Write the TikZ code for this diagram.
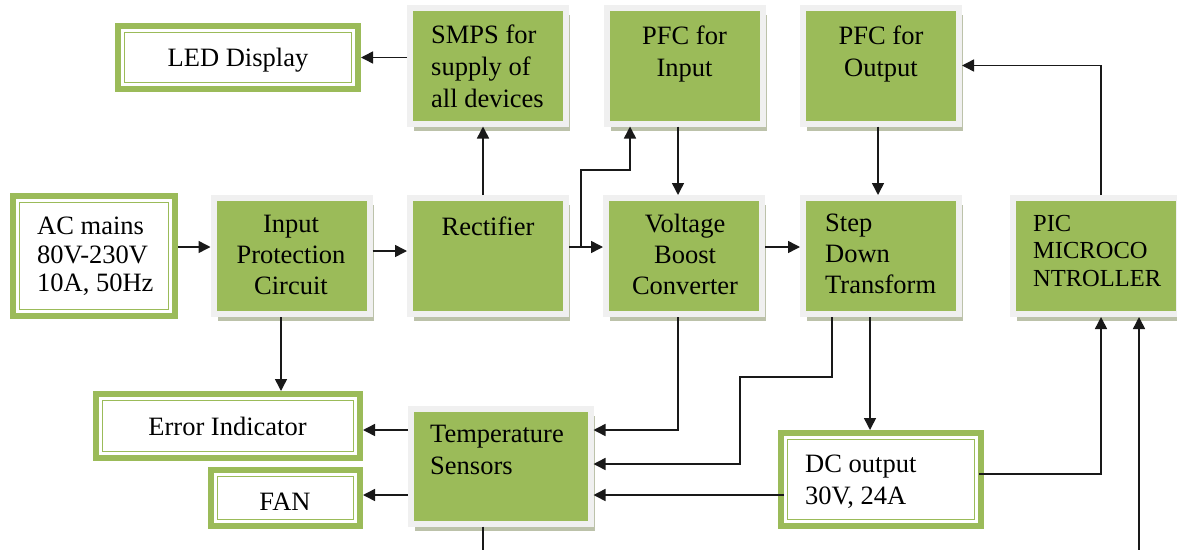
\documentclass[tikz,border=0pt]{standalone}
\usepackage{fontspec}
\setmainfont{Liberation Serif}
\usetikzlibrary{arrows.meta,shadows,calc}
\definecolor{ogreen}{HTML}{9BBB59}
\definecolor{lborder}{HTML}{F0F0F0}
\definecolor{shadowc}{HTML}{BCC2AA}
\begin{document}
\begin{tikzpicture}[x=1pt,y=-1pt,
  gbox/.style={draw=lborder, line width=6pt, fill=ogreen, minimum width=156pt, minimum height=116pt, inner sep=0pt,
    drop shadow={shadow xshift=4pt,shadow yshift=-7pt,fill=shadowc,opacity=1}},
  wbox/.style={draw=ogreen, line width=6pt, fill=white, inner sep=0pt},
  inl/.style={draw=ogreen, line width=1.4pt},
  txt/.style={inner sep=0pt, font=\fontsize{26.5}{31}\selectfont, text=black},
  arr/.style={line width=1.5pt, draw=black!90, -{Triangle[length=12pt,width=12pt]}},
  ln/.style={line width=1.5pt, draw=black!90}]
\path[use as bounding box] (0,0) rectangle (1177,549);
\clip (0,0) rectangle (1177,549);

% green boxes
\node[gbox] (smps) at (488,65.5) {};
\node[gbox] (pfcin) at (684.5,65.5) {};
\node[gbox] (pfcout) at (881,65.5) {};
\node[gbox] (ip) at (291.5,256) {};
\node[gbox] (rect) at (488,256) {};
\node[gbox] (vb) at (684,256) {};
\node[gbox] (sd) at (881,256) {};
\node[gbox, minimum width=166pt] (pic) at (1096,256) {};
\node[gbox, minimum width=180pt, minimum height=115pt] (temp) at (500.5,466) {};

% white double-framed boxes
\node[wbox, minimum width=240pt, minimum height=63pt] (led) at (238,57.5) {};
\node[wbox, minimum width=162pt, minimum height=120pt] (ac) at (94,256) {};
\node[wbox, minimum width=264pt, minimum height=64pt] (err) at (228,426) {};
\node[wbox, minimum width=149pt, minimum height=56pt] (fan) at (285.5,498) {};
\node[wbox, minimum width=200pt, minimum height=93pt] (dc) at (881,479.5) {};
\foreach \n in {led,ac,err,fan,dc}
  \draw[inl] ([shift={(9.5,9.5)}]\n.north west) rectangle ([shift={(-9.5,-9.5)}]\n.south east);

% texts
\node[txt, anchor=north] (tled) at (238,48) {LED Display};
\node[txt, anchor=north west, align=left, font=\fontsize{26.5}{32}\selectfont] (tsmps) at (431,25) {SMPS for\\supply of\\all devices};
\node[txt, anchor=north, align=center, font=\fontsize{26.5}{32}\selectfont] (tpfcin) at (684.5,26) {PFC for\\Input};
\node[txt, anchor=north, align=center, font=\fontsize{26.5}{32}\selectfont] (tpfcout) at (881,26) {PFC for\\Output};
\node[txt, anchor=north, align=center] (tip) at (291,215) {Input\\Protection\\Circuit};
\node[txt, anchor=north] (trect) at (488,217) {Rectifier};
\node[txt, anchor=north, align=center] (tvb) at (685,214) {Voltage\\Boost\\Converter};
\node[txt, anchor=north west, align=left] (tsd) at (825,214) {Step\\Down\\Transform};
\node[txt, anchor=north west, align=left, font=\fontsize{24.5}{27.5}\selectfont] (tpic) at (1033,215) {PIC\\MICROCO\\NTROLLER};
\node[txt, anchor=north west, align=left, font=\fontsize{26.5}{28.5}\selectfont] (tac) at (37,217) {AC mains\\80V-230V\\10A, 50Hz};
\node[txt, anchor=north] (terr) at (227.5,417) {Error Indicator};
\node[txt, anchor=north] (tfan) at (285,493) {FAN};
\node[txt, anchor=north west, align=left, font=\fontsize{26.5}{32}\selectfont] (ttemp) at (430,425) {Temperature\\Sensors};
\node[txt, anchor=north west, align=left, font=\fontsize{26.5}{32}\selectfont] (tdc) at (805,455) {DC output\\30V, 24A};

% connectors
\draw[arr] ([yshift=9pt]ac.east) -- ([yshift=9pt]ip.west);
\draw[arr] ([yshift=5pt]ip.east) -- ([yshift=5pt]rect.west);
\draw[arr] ([yshift=9pt]rect.east) -- ([yshift=9pt]vb.west);
\coordinate (br) at ([xshift=12pt,yshift=9pt]rect.east);
\draw[arr] (br) -- ++(0,-77) -| ([xshift=-54.5pt]pfcin.south);
\draw[arr] ([xshift=-5pt]rect.north) -- ([xshift=-5pt]smps.south);
\draw[arr] (smps.west |- led.east) -- (led.east);
\draw[arr] ([xshift=-6.5pt]pfcin.south) -- ([xshift=-6pt]vb.north);
\draw[arr] ([yshift=9pt]vb.east) -- ([yshift=9pt]sd.west);
\draw[arr] ([xshift=-3pt]pfcout.south) -- ([xshift=-3pt]sd.north);
\draw[arr] ([xshift=5pt]pic.north) |- (pfcout.east);
\draw[arr] ([xshift=-10.5pt]ip.south) -- ([xshift=-10.5pt]ip.south |- err.north);
\draw[arr] ([yshift=36pt]temp.west) -- ([yshift=36pt]temp.west -| err.east);
\draw[arr] ([yshift=-29pt]temp.west) -- ([yshift=-29pt]temp.west -| fan.east);
\draw[arr] ([xshift=-6pt]vb.south) |- ([yshift=36pt]temp.east);
\draw[arr] ([xshift=-49pt]sd.south) |- ++(-92,60) |- ([yshift=2pt]temp.east);
\draw[arr] ([xshift=-11pt]sd.south) -- ([xshift=-11pt]sd.south |- dc.north);
\draw[arr] ([xshift=6pt,yshift=-15.5pt]dc.west) -- ([yshift=-15.5pt]dc.west -| temp.east);
\draw[arr] ([xshift=-5pt,yshift=5.5pt]dc.east) -| ([xshift=5pt]pic.south);
\coordinate (bin) at ([xshift=43pt]pic.south |- 0,560);
\draw[arr] (bin) -- ([xshift=43pt]pic.south);
\draw[ln] ([xshift=-17.5pt]temp.south) -- ++(0,40);
\end{tikzpicture}
\end{document}
